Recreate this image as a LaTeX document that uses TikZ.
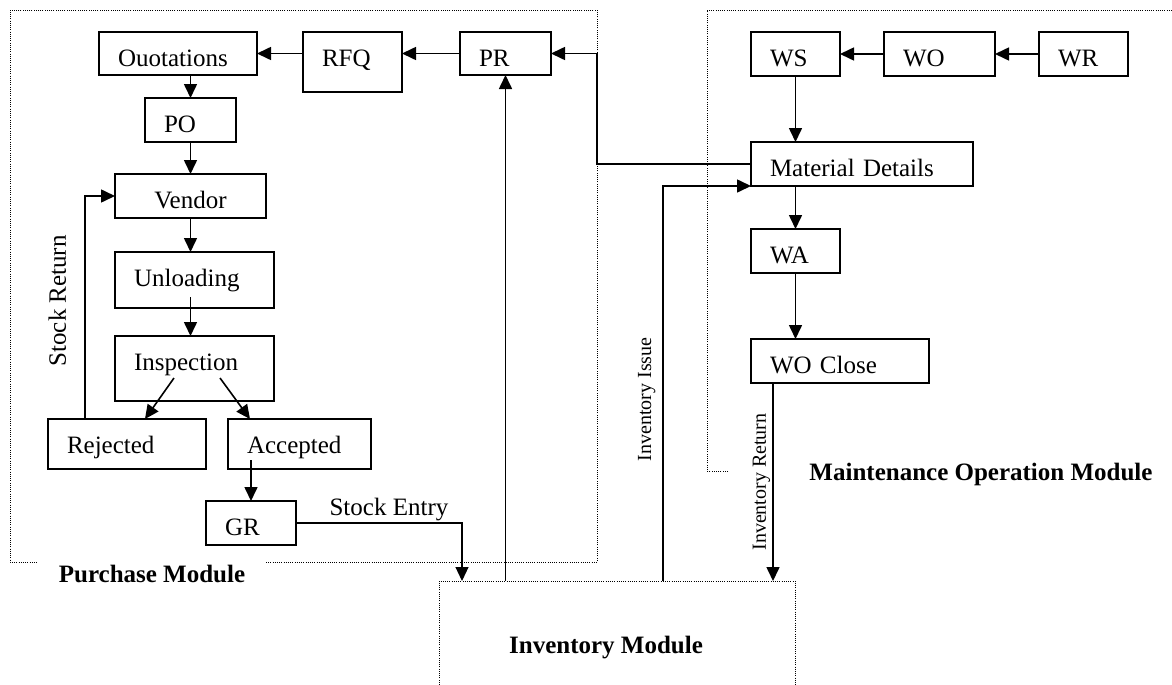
\documentclass[tikz,border=0pt]{standalone}
\usepackage{fontspec}
\setmainfont{Liberation Serif}
\usetikzlibrary{arrows.meta,calc}

\begin{document}
\begin{tikzpicture}[x=0.5pt,y=-0.5pt,
  >={Triangle[length=7pt,width=6.5pt]},
  blk/.style={draw,line width=0.8pt,anchor=north west,inner xsep=9.5pt,inner ysep=0pt,
    outer sep=0pt,text height=17pt,align=left,font=\fontsize{12.5}{15}\selectfont},
  arr/.style={->,line width=0.8pt},
  modline/.style={line width=0.5pt,dash pattern=on 0.5pt off 0.6pt},
  modname/.style={font=\fontsize{12.5}{15}\selectfont\bfseries},
  flow/.style={font=\fontsize{12.5}{15}\selectfont},
  small/.style={font=\fontsize{10}{12}\selectfont}]
\useasboundingbox (0,0) rectangle (1172,685);

% purchase side
\node[blk,text width=60pt,text depth=4.5pt] (qt) at (99,32) {Ouotations};
\node[blk,text width=30.5pt,text depth=13pt] (rfq) at (303,32) {RFQ};
\node[blk,text width=26.5pt,text depth=4.5pt] (pr) at (460,32) {PR};
\node[blk,text width=26.5pt,text depth=5pt] (po) at (145,98) {PO};
\node[blk,text width=56.5pt,text depth=5pt,align=center] (vd) at (115,174) {Vendor};
\node[blk,text width=60.5pt,text depth=11pt] (ul) at (115,252) {Unloading};
\node[blk,text width=60.5pt,text depth=15.5pt] (ins) at (115,336) {Inspection};
\node[blk,text width=60pt,text depth=8pt] (rj) at (48,419) {Rejected};
\node[blk,text width=52.5pt,text depth=8pt] (ac) at (228,419) {Accepted};
\node[blk,text width=26pt,text depth=5pt] (gr) at (206,501) {GR};

% maintenance side
\node[blk,text width=25.5pt,text depth=5pt] (ws) at (751,32) {WS};
\node[blk,text width=36.5pt,text depth=5pt] (wo) at (884,32) {WO};
\node[blk,text width=25.5pt,text depth=5pt] (wr) at (1039,32) {WR};
\node[blk,text width=92pt,text depth=5pt] (md) at (751,142) {Material Details};
\node[blk,text width=25.5pt,text depth=5pt] (wa) at (751,229) {WA};
\node[blk,text width=70pt,text depth=5pt] (wc) at (751,339) {WO Close};

% inventory entry points
\coordinate (entry) at (462,581);
\coordinate (issue) at (663,581);
\coordinate (retn) at (773,581);

\draw[arr] (md.west) -| ([xshift=23pt]pr.east) -- (pr.east);
\draw[arr] (pr.west) -- (pr.west -| rfq.east);
\draw[arr] (qt.east -| rfq.west) -- (qt.east);
\draw[arr] (po.north |- qt.south) -- (po.north);
\draw[arr] (po.south) -- (vd.north);
\draw[arr] (vd.south) -- (vd.south |- ul.north);
\draw[arr] ([yshift=5.5pt]vd.south |- ul.south) -- (vd.south |- ins.north);
\draw[arr] ($(ins.south west)+(59,-23)$) -- ($(rj.north west)+(97,0)$);
\draw[arr] ($(ins.south west)+(105,-23)$) -- ($(ac.north west)+(22,0)$);
\draw[arr] ([yshift=4.5pt]gr.north |- ac.south) -- (gr.north);
\draw[arr] ([xshift=18.5pt]rj.north west) |- (vd.west)
  node[pos=0.265,rotate=90,anchor=south,inner sep=9pt,flow] {Stock Return};
\draw[arr,line width=0.55pt] (gr.east) -| (entry)
  node[pos=0.28,above,inner sep=1pt,flow] {Stock Entry};
\draw[arr] (pr.south |- entry) -- (pr.south);
\draw[arr] (issue) |- (md.south west)
  node[pos=0.23,sloped,above,small] {Inventory Issue};
\draw[arr] ([xshift=11pt]wc.south west) -- (retn)
  node[midway,rotate=90,anchor=south,inner sep=1pt,small] {Inventory Return};
\draw[arr] (ws.south) -- (ws.south |- md.north);
\draw[arr] (wa.north |- md.south) -- (wa.north);
\draw[arr] (wa.south) -- (wa.south |- wc.north);
\draw[arr] (wr.west) -- (wo.east);
\draw[arr] (wo.west) -- (ws.east);

% module frames
\draw[modline] (266,562) -| (597,10) -| (10,562) -- (38,562);
\node[modname] (pmod) at (152,574) {Purchase Module};
\draw[modline] (728,471) -- (707,471) |- (1172,10);
\node[modname] (mmod) at (981,474) {Maintenance Operation Module};
\draw[modline] (439,685) |- (795,581) -- (795,685);
\node[modname] (imod) at (606,648) {Inventory Module};
\end{tikzpicture}
\end{document}
